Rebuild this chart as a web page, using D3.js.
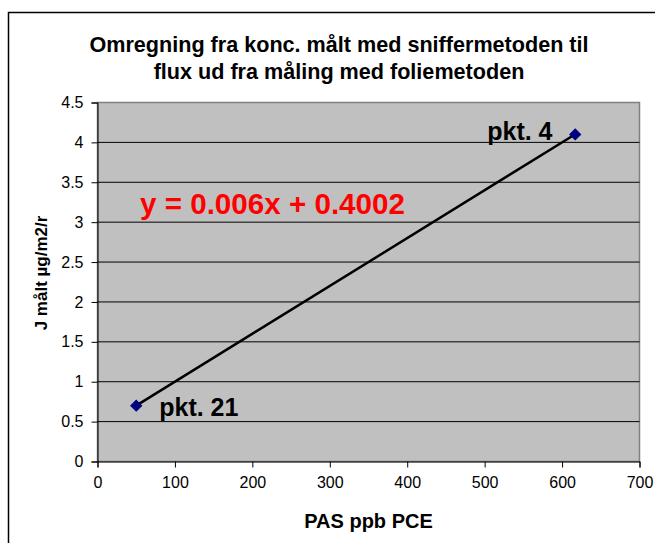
<!DOCTYPE html>
<html><head><meta charset="utf-8">
<script src="https://cdn.jsdelivr.net/npm/d3@7"></script>
<style>body{margin:0;background:#fff}svg{display:block}</style>
</head><body>
<script>
const titleLines = ["Omregning fra konc. målt med sniffermetoden til", "flux ud fra måling med foliemetoden"];
const xLabel = "PAS ppb PCE";
const yLabel = "J målt µg/m2/r";
const pointX = [50, 617];
const pointY = [0.7, 4.1];
const pointNames = ["pkt. 21", "pkt. 4"];
const slope = 0.006, intercept = 0.4002;
const equation = "y = 0.006x + 0.4002";
const xTicks = [0,100,200,300,400,500,600,700];
const yTicks = [0,0.5,1,1.5,2,2.5,3,3.5,4,4.5];

const W = 655, H = 543;
const svg = d3.select("body").append("svg").attr("width", W).attr("height", H)
  .style("font-family", "Liberation Sans, Arial, sans-serif");
svg.append("rect").attr("width", W).attr("height", H).attr("fill", "#fff");
svg.append("rect").attr("x", 8.5).attr("y", 12.5).attr("width", 700).attr("height", 600)
  .attr("fill", "none").attr("stroke", "#000").attr("stroke-width", 1.5);

const x = d3.scaleLinear().domain([0, 700]).range([97.5, 639.5]);
const y = d3.scaleLinear().domain([0, 4.5]).range([461.5, 102.5]);

svg.append("rect").attr("x", x(0)).attr("y", y(4.5)).attr("width", x(700) - x(0)).attr("height", y(0) - y(4.5))
  .attr("fill", "#c0c0c0").attr("stroke", "#808080").attr("stroke-width", 1.5);

svg.append("g").selectAll("line").data(yTicks.filter(d => d > 0 && d < 4.5)).join("line")
  .attr("x1", x(0)).attr("x2", x(700)).attr("y1", d => y(d)).attr("y2", d => y(d))
  .attr("stroke", "#000").attr("stroke-width", 1);

const xAxis = svg.append("g").attr("transform", `translate(0,${y(0)})`)
  .call(d3.axisBottom(x).tickValues(xTicks).tickSize(6).tickPadding(9).tickFormat(d3.format("d")));
const yAxis = svg.append("g").attr("transform", `translate(${x(0)},0)`)
  .call(d3.axisLeft(y).tickValues(yTicks).tickSize(6).tickPadding(8).tickFormat(d => String(d)));
[xAxis, yAxis].forEach(g => {
  g.select(".domain").attr("stroke", "#000").attr("stroke-width", 1);
  g.selectAll(".tick line").attr("stroke", "#000");
  g.selectAll("text").attr("font-size", 16).attr("fill", "#000").attr("font-family", "Liberation Sans, Arial, sans-serif");
});

// trendline
svg.append("line")
  .attr("x1", x(pointX[0])).attr("y1", y(slope * pointX[0] + intercept))
  .attr("x2", x(pointX[1])).attr("y2", y(slope * pointX[1] + intercept))
  .attr("stroke", "#000").attr("stroke-width", 2.5);

const pts = pointX.map((v, i) => ({x: v, y: pointY[i], name: pointNames[i]}));
svg.append("g").selectAll("path").data(pts).join("path")
  .attr("transform", d => `translate(${x(d.x)},${y(d.y)}) rotate(45)`)
  .attr("d", d3.symbol(d3.symbolSquare, 60))
  .attr("fill", "#000080").attr("stroke", "#000080");

svg.append("text").attr("x", x(pointX[0]) + 23).attr("y", y(pointY[0]) + 10)
  .attr("font-size", 25).attr("font-weight", "bold").text(pointNames[0]);
svg.append("text").attr("x", x(pointX[1]) - 88).attr("y", y(pointY[1]) + 6)
  .attr("font-size", 25).attr("font-weight", "bold").text(pointNames[1]);

svg.append("text").attr("x", 140).attr("y", 214)
  .attr("font-size", 29.6).attr("font-weight", "bold").attr("fill", "#ff0000").text(equation);

svg.append("g").selectAll("text").data(titleLines).join("text")
  .attr("x", 339).attr("y", (d, i) => 52 + i * 27).attr("text-anchor", "middle")
  .attr("font-size", 21.6).attr("font-weight", "bold").text(d => d);

svg.append("text").attr("x", (x(0) + x(700)) / 2).attr("y", 528).attr("text-anchor", "middle")
  .attr("font-size", 20).attr("font-weight", "bold").text(xLabel);

svg.append("text").attr("transform", "translate(47,273) rotate(-90)").attr("text-anchor", "middle")
  .attr("font-size", 17).attr("font-weight", "bold").text(yLabel);
</script>
</body></html>
